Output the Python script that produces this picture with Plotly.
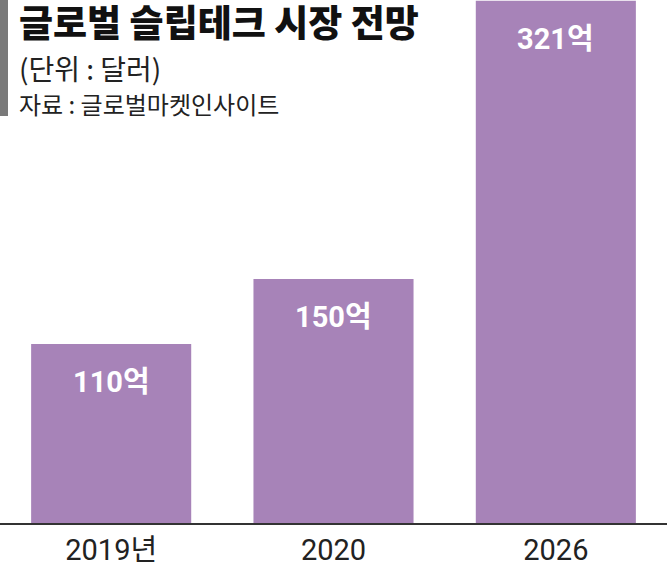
import plotly.graph_objects as go

categories = ["2019년", "2020", "2026"]
values = [110, 150, 321]
labels = ["110억", "150억", "321억"]

title = "글로벌 슬립테크 시장 전망"
unit = "(단위 : 달러)"
source = "자료 : 글로벌마켓인사이트"

BAR = "#a783b8"
NUM = "Roboto, Noto Sans CJK KR, sans-serif"
CJK = "Noto Sans CJK KR, sans-serif"

fig = go.Figure()
fig.add_trace(go.Bar(x=categories, y=values, marker=dict(color=BAR, line=dict(width=0)),
                     hoverinfo="skip"))

for i, (v, t) in enumerate(zip(values, labels)):
    fig.add_annotation(x=i, y=v, text=t, showarrow=False, yanchor="middle", yshift=-38,
                       font=dict(family=NUM, size=29, color="white", weight="bold"))

fig.add_annotation(xref="paper", yref="paper", x=0.026, y=1.0, xanchor="left", yanchor="middle",
                   text=title, showarrow=False, yshift=-21,
                   font=dict(family=CJK, size=37, color="#111111", weight=900))
fig.add_annotation(xref="paper", yref="paper", x=0.026, y=1.0, xanchor="left", yanchor="middle",
                   text=unit, showarrow=False, yshift=-68,
                   font=dict(family=CJK, size=28, color="#222222"))
fig.add_annotation(xref="paper", yref="paper", x=0.026, y=1.0, xanchor="left", yanchor="middle",
                   text=source, showarrow=False, yshift=-103,
                   font=dict(family=CJK, size=24, color="#222222"))

fig.add_shape(type="rect", xref="paper", yref="paper", x0=0, x1=8 / 667, y0=1 - 116 / 523, y1=1.0,
              fillcolor="#7a7a7a", line=dict(width=0), layer="above")

fig.update_layout(
    width=667, height=567,
    margin=dict(l=0, r=0, t=0, b=44, pad=0),
    paper_bgcolor="white", plot_bgcolor="white",
    bargap=0.28, showlegend=False,
    xaxis=dict(type="category", range=[-0.5, 2.5], showline=True, linecolor="#333333",
               linewidth=2, ticks="", showgrid=False,
               tickfont=dict(family=NUM, size=29, color="#222222"), fixedrange=True),
    yaxis=dict(range=[0, 321.5], visible=False, showgrid=False, fixedrange=True),
)

fig.write_html("out.html")
